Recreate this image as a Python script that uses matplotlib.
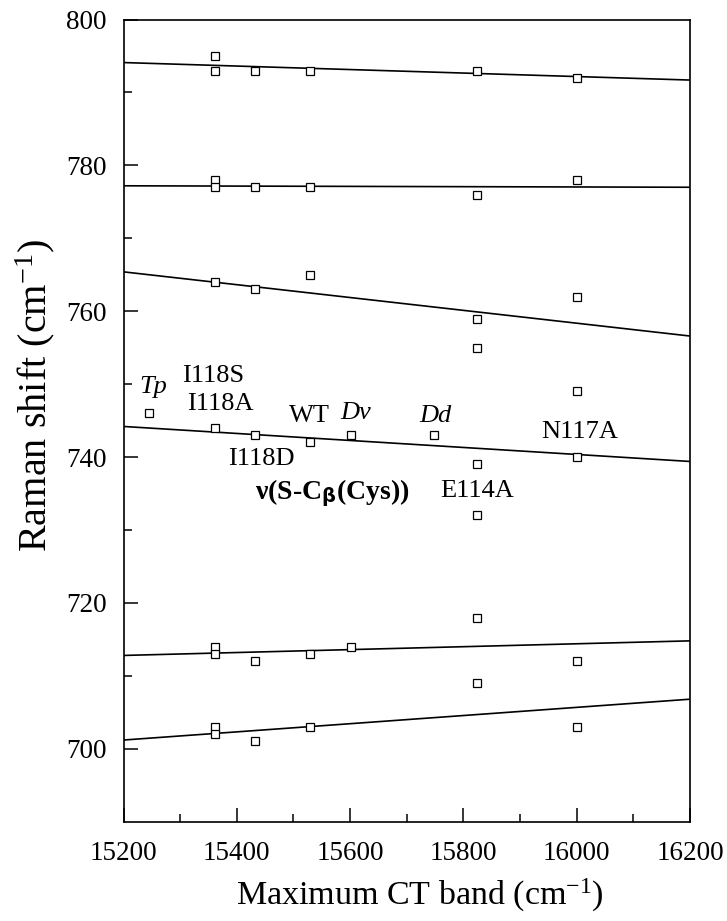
import numpy as np
import matplotlib
matplotlib.use('Agg')
import matplotlib.pyplot as plt

plt.rcParams['font.family'] = 'Liberation Serif'
plt.rcParams['mathtext.fontset'] = 'custom'
plt.rcParams['mathtext.rm'] = 'Liberation Serif'
plt.rcParams['mathtext.it'] = 'Liberation Serif:italic'
plt.rcParams['mathtext.bf'] = 'DejaVu Sans:bold'

# CT band positions of the samples (cm-1)
ct_x = [15361.5, 15361.5, 15432.7, 15528.6, 15823.5, 16000,      # ~793 band
        15361.5, 15361.5, 15432.7, 15528.6, 15823.5, 16000,      # ~777 band
        15361.5, 15432.7, 15528.6, 15823.5, 15823.5, 16000, 16000,  # ~760 band
        15245, 15361.5, 15432.7, 15528.6, 15601, 15749, 15823.5, 15823.5, 16000,  # ~740 band
        15361.5, 15361.5, 15432.7, 15528.6, 15601, 15823.5, 15823.5, 16000,      # ~713 band
        15361.5, 15361.5, 15432.7, 15528.6, 16000]                # ~703 band
raman_y = [795, 793, 793, 793, 793, 792,
           778, 777, 777, 777, 776, 778,
           764, 763, 765, 759, 755, 762, 749,
           746, 744, 743, 742, 743, 743, 739, 732, 740,
           714, 713, 712, 713, 714, 718, 709, 712,
           703, 702, 701, 703, 703]

# linear fit lines, value at 15200 and at 16200
fit_x = [15200, 16200]
fit_lines = [[794.1, 791.7],
             [777.2, 777.0],
             [765.4, 756.6],
             [744.2, 739.4],
             [712.8, 714.8],
             [701.2, 706.8]]

# labels (text, x, y, style)
labels = [('Tp', 15252, 749.6, 'italic'),
          ('I118S', 15358, 751.1, 'normal'),
          ('I118A', 15371, 747.3, 'normal'),
          ('WT', 15529, 745.7, 'normal'),
          ('Dv', 15610, 746.0, 'italic'),
          ('I118D', 15444, 739.8, 'normal'),
          ('Dd', 15750, 745.6, 'italic'),
          ('N117A', 16006, 743.4, 'normal'),
          ('E114A', 15825, 735.4, 'normal')]

fig = plt.figure(figsize=(7.27, 9.21), dpi=100)
ax = fig.add_axes([0.1699, 0.1078, 0.7791, 0.871])

for ends in fit_lines:
    ax.plot(fit_x, ends, color='black', lw=1.2)

ax.plot(ct_x, raman_y, linestyle='none', marker='s', ms=6.3,
        mfc='white', mec='black', mew=0.9)

for txt, x, y, st in labels:
    ax.text(x, y, txt, fontsize=19, style=st, ha='center', va='center')

ax.text(15433, 735.0, 'ν(S-C$_{\\mathbf{\\beta}}$(Cys))', fontsize=20,
        fontweight='bold', ha='left', va='center')

ax.set_xlim(15200, 16200)
ax.set_ylim(690, 800)
ax.set_xticks(np.arange(15200, 16201, 200))
ax.set_xticks(np.arange(15300, 16200, 200), minor=True)
ax.set_yticks(np.arange(700, 801, 20))
ax.set_yticks(np.arange(710, 800, 20), minor=True)
ax.tick_params(which='both', direction='in', labelsize=19.5, width=1.1,
               top=False, right=False)
ax.tick_params(which='major', length=10)
ax.tick_params(axis='x', which='major', pad=14)
ax.tick_params(axis='y', which='major', pad=12)
ax.tick_params(which='minor', length=6)
for s in ax.spines.values():
    s.set_linewidth(1.2)

ax.set_xlabel('Maximum CT band (cm$^{-1}$)', fontsize=24.5)
ax.xaxis.set_label_coords(0.5234, -0.069)
ax.set_ylabel('Raman shift (cm$^{-1}$)', fontsize=29, va='center')
ax.yaxis.set_label_coords(-0.156, 0.531)

fig.savefig('out.png', dpi=100)
